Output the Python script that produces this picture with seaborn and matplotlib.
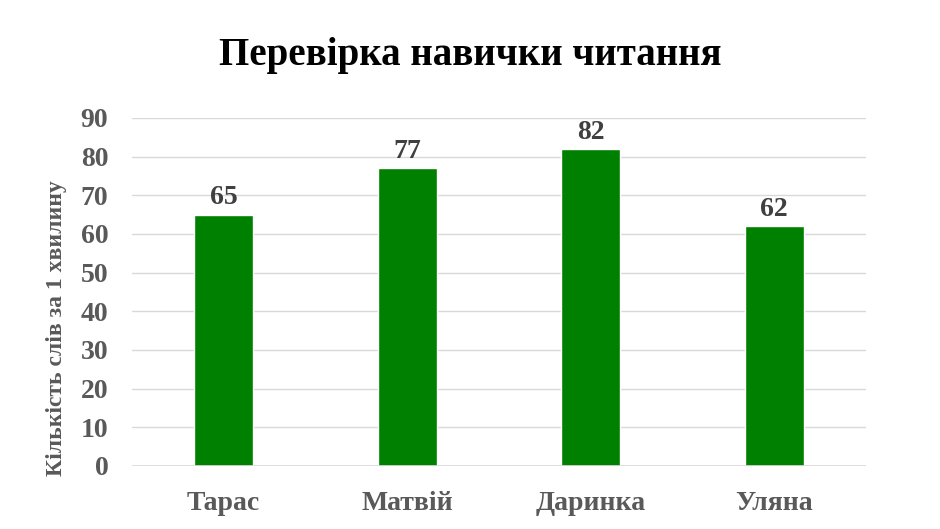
import matplotlib
matplotlib.use("Agg")
import matplotlib.pyplot as plt
import pandas as pd
import seaborn as sns

# data
names = ["Тарас", "Матвій", "Даринка", "Уляна"]
words = [65, 77, 82, 62]
yticks = [0, 10, 20, 30, 40, 50, 60, 70, 80, 90]

df = pd.DataFrame({"name": names, "words": words})

sns.set_style("white")
plt.rcParams["font.family"] = ["Liberation Serif", "DejaVu Serif"]
plt.rcParams["font.weight"] = "bold"

fig = plt.figure(figsize=(9.4, 5.29), dpi=100)
ax = fig.add_axes([0.1404, 0.1191, 0.7809, 0.6579])

sns.barplot(df, x="name", y="words", color="#008000", saturation=1,
            width=0.32, ax=ax, zorder=3)

for c in ax.containers:
    ax.bar_label(c, fontsize=20, fontweight="bold", color="#404040", padding=3)

ax.set_ylim(0, 90)
ax.set_yticks(yticks)
ax.set_xlim(-0.5, 3.5)
ax.grid(axis="y", color="#d9d9d9", linewidth=1, zorder=0)
for s in ax.spines.values():
    s.set_visible(False)
ax.axhline(0, color="#d9d9d9", linewidth=1.2, zorder=4)

ax.tick_params(axis="both", length=0, labelsize=20, labelcolor="#595959")
ax.tick_params(axis="x", pad=18)
ax.tick_params(axis="y", pad=17)
for t in ax.get_xticklabels() + ax.get_yticklabels():
    t.set_fontweight("bold")

ax.set_xlabel("")
ax.set_ylabel("Кількість слів за 1 хвилину", fontsize=17, fontweight="bold",
              color="#595959")
ax.yaxis.set_label_coords(-0.088, 0.395)

fig.suptitle("Перевірка навички читання", fontsize=28, fontweight="bold",
             color="black", y=0.93)

fig.savefig("out.png", dpi=100, facecolor="white")
